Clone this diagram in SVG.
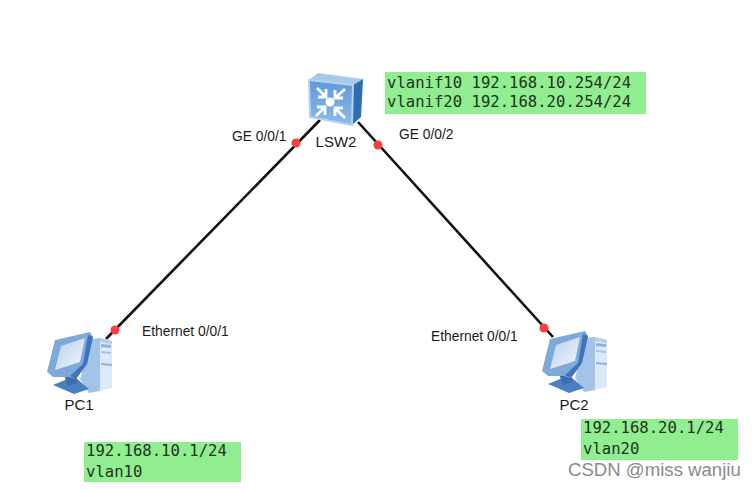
<svg xmlns="http://www.w3.org/2000/svg" width="756" height="490" viewBox="0 0 756 490">
<style>
.lbl{font-family:"Liberation Sans",Arial,sans-serif;font-size:13.8px;fill:#1a1a1a}
.nm{font-family:"Liberation Sans",Arial,sans-serif;font-size:15px;fill:#1a1a1a;text-anchor:middle}
.mono{font-family:"DejaVu Sans Mono",monospace;font-size:15.6px;fill:#1d331d}
.box{fill:#90ee90}
.link{stroke:#111;stroke-width:2.6;fill:none}
.dot{fill:#f8413a}
</style>
<defs>
<linearGradient id="face" x1="0" y1="0" x2="0" y2="1"><stop offset="0" stop-color="#5f97d8"/><stop offset="1" stop-color="#8dbbea"/></linearGradient>
<linearGradient id="scr" x1="0" y1="0" x2="1" y2="1"><stop offset="0" stop-color="#b5cfec"/><stop offset="1" stop-color="#f3f7fc"/></linearGradient>
<g id="pc">
<polygon points="100,338 112,341 112,388 100,391" fill="#dce9f8"/>
<polygon points="100,338 112,341 112,344 100,342" fill="#b4cde9"/>
<polygon points="101,344 111,345 111,348 101,347" fill="#8fb2d9"/>
<polygon points="101,351 111,352 111,354 101,353" fill="#a9c5e4"/>
<polygon points="101,363 112,364 112,366 101,365" fill="#8fb2d9"/>
<polygon points="91,339 100,338 100,391 89,393 80,379" fill="#a3c3e8"/>
<polygon points="53,385 70,378 76,378 89,389 74,394" fill="#4a7fc0"/>
<polygon points="64,375 76,372 77,383 68,386" fill="#3a6cae"/>
<polygon points="47,372 55,340 90,332 93,337 87,364 76,379 69,377 53,377" fill="#7fa9da"/>
<polygon points="88,335 93,337 87,364 76,379 70,376 83,364" fill="#3f74b8"/>
<polygon points="55,370 61,346 85,338 80,362" fill="url(#scr)"/>
</g>
</defs>
<rect width="756" height="490" fill="#fff"/>
<g id="connectors">
<line class="link" x1="320" y1="120" x2="106" y2="339"/>
<line class="link" x1="358" y1="122" x2="553" y2="337"/>
<circle class="dot" cx="296" cy="143" r="4.5"/>
<circle class="dot" cx="378" cy="145" r="4.5"/>
<circle class="dot" cx="115" cy="330" r="4.5"/>
<circle class="dot" cx="544" cy="328" r="4.5"/>
</g>
<g id="LSW2">
<polygon points="309,80 318,73 363,79 353,85" fill="#a9c9ec"/>
<polygon points="353,85 363,79 361,117 352,125" fill="#2f6db3"/>
<polygon points="309,80 353,85 352,125 310,117" fill="url(#face)" stroke="#b4d2f2" stroke-width="2"/>
<circle cx="330" cy="102" r="4.5" fill="#fff"/>
<g stroke="#fff" stroke-width="2.8" fill="none">
<path d="M317,88 L326,97 M326,89 V97 H318"/>
<path d="M345,89 L335,98 M335,90 V98 H343"/>
<path d="M316,116 L325,107 M317,107 H325 V115"/>
<path d="M345,118 L335,108 M343,108 H335 V116"/>
</g>
<text class="nm" x="336" y="147">LSW2</text>
</g>
<g id="PC1">
<use href="#pc"/>
<text class="nm" x="79" y="410">PC1</text>
</g>
<g id="PC2">
<use href="#pc" transform="translate(495,-1)"/>
<text class="nm" x="574" y="410">PC2</text>
</g>
<g id="labels">
<text class="lbl" x="232" y="141">GE 0/0/1</text>
<text class="lbl" x="399" y="139">GE 0/0/2</text>
<text class="lbl" x="142" y="336">Ethernet 0/0/1</text>
<text class="lbl" x="431" y="341">Ethernet 0/0/1</text>
</g>
<g id="note-switch">
<rect class="box" x="385" y="72" width="261" height="42"/>
<text class="mono" x="387" y="88">vlanif10 192.168.10.254/24</text>
<text class="mono" x="387" y="107">vlanif20 192.168.20.254/24</text>
</g>
<g id="note-pc1">
<rect class="box" x="84" y="442" width="157" height="40"/>
<text class="mono" x="86" y="456">192.168.10.1/24</text>
<text class="mono" x="86" y="477">vlan10</text>
</g>
<g id="note-pc2">
<rect class="box" x="581" y="419" width="157" height="41"/>
<text class="mono" x="583" y="433">192.168.20.1/24</text>
<text class="mono" x="583" y="454">vlan20</text>
</g>
<text x="568" y="476" font-family="'Liberation Sans',Arial,sans-serif" font-size="18.6" fill="#8a8a8a">CSDN @miss wanjiu</text>
</svg>
